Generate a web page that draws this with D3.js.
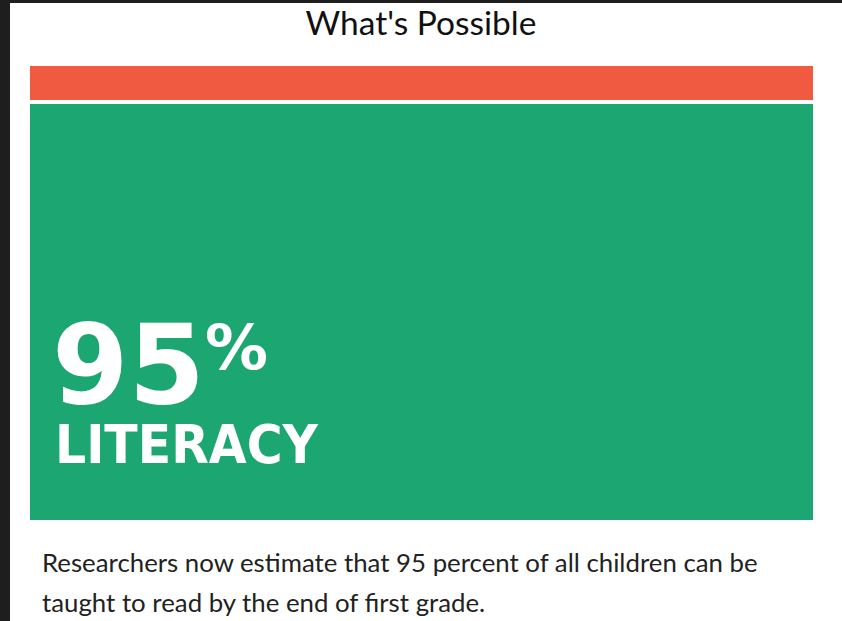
<!DOCTYPE html>
<html><head><meta charset="utf-8">
<script src="https://cdn.jsdelivr.net/npm/d3@7"></script>
<style>html,body{margin:0;padding:0;background:#1e1e1e;}svg{display:block;}</style>
</head><body>
<script>
const categories = ["Not literate", "Literacy"];
const values = [5, 95];
const colors = ["#f05a40", "#1ca672"];
const title = "What's Possible";
const bigLabel = "95";
const bigSuffix = "%";
const subLabel = "LITERACY";
const caption = ["Researchers now estimate that 95 percent of all children can be",
                 "taught to read by the end of first grade."];

const W = 842, H = 621;
const svg = d3.select("body").append("svg").attr("width", W).attr("height", H);
svg.append("rect").attr("x", 10).attr("y", 3).attr("width", W - 10).attr("height", H - 3).attr("fill", "#fff");

svg.append("text").attr("x", 421).attr("y", 35).attr("text-anchor", "middle")
  .attr("font-family", "Lato").attr("font-size", 33.5).attr("fill", "#111").text(title);

const x = d3.scaleLinear().domain([0, 1]).range([30, 813]);
const h = d3.scaleLinear().domain([0, 100]).range([12.8, 437.2]);
const gap = 4;
let y0 = 66;
const rows = values.map((v, i) => { const r = {cat: categories[i], v, y: y0, h: h(v), c: colors[i]}; y0 += h(v) + gap; return r; });
svg.selectAll("rect.bar").data(rows).join("rect").attr("class", "bar")
  .attr("x", x(0)).attr("width", x(1) - x(0))
  .attr("y", d => d.y).attr("height", d => d.h).attr("fill", d => d.c);

const g = svg.append("g").attr("font-family", "DejaVu Sans").attr("font-weight", "bold").attr("fill", "#fff");
g.append("text").attr("x", 52).attr("y", 403).attr("font-size", 110)
  .attr("textLength", 153).attr("lengthAdjust", "spacingAndGlyphs").text(bigLabel);
g.append("text").attr("x", 205).attr("y", 369).attr("font-size", 62)
  .attr("textLength", 63).attr("lengthAdjust", "spacingAndGlyphs").text(bigSuffix);
g.append("text").attr("x", 55).attr("y", 463).attr("font-size", 53)
  .attr("textLength", 263).attr("lengthAdjust", "spacingAndGlyphs").text(subLabel);

svg.selectAll("text.cap").data(caption).join("text").attr("class", "cap")
  .attr("x", 42).attr("y", (d, i) => 572 + i * 40)
  .attr("font-family", "Lato").attr("font-size", 25.8).attr("fill", "#222").text(d => d);
</script>
</body></html>
